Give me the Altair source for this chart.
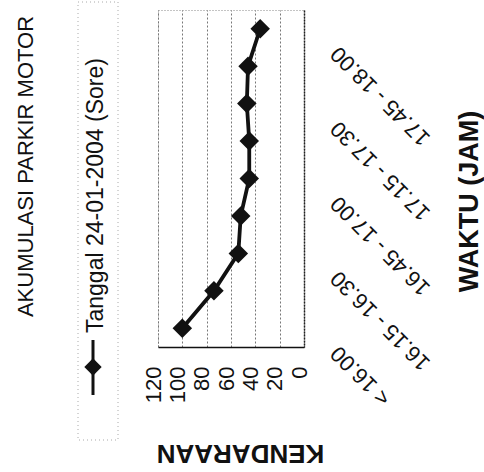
import altair as alt
import pandas as pd

# Time slots (15-minute intervals) and motorcycle accumulation counts
CATEGORIES = [
    "< 16.00", "16.00 - 16.15", "16.15 - 16.30", "16.30 - 16.45",
    "16.45 - 17.00", "17.00 - 17.15", "17.15 - 17.30", "17.30 - 17.45",
    "17.45 - 18.00",
]
VALUES = [100, 74, 54, 52, 45, 45, 47, 46, 36]
SHOWN_LABELS = ["< 16.00", "16.15 - 16.30", "16.45 - 17.00", "17.15 - 17.30", "17.45 - 18.00"]
VALUE_TICKS = [0, 20, 40, 60, 80, 100, 120]
SERIES = "Tanggal 24-01-2004 (Sore)"
TITLE = "AKUMULASI PARKIR MOTOR"

FONT = "Liberation Sans"

df = pd.DataFrame({"waktu": CATEGORIES, "kendaraan": VALUES, "seri": SERIES})
legend_df = pd.DataFrame({"seri": [SERIES]})

x_enc = alt.X(
    "kendaraan:Q",
    scale=alt.Scale(domain=[0, 120], reverse=True, nice=False, zero=True),
    axis=alt.Axis(
        values=VALUE_TICKS, labelAngle=270, labelAlign="right", labelBaseline="middle",
        labelFontSize=22, labelPadding=19, labelOffset=-5, labelColor="#111",
        ticks=False, domainColor="#111", domainWidth=1.5,
        grid=True, gridColor="#777", gridDash=[2, 2], gridWidth=1,
        title="KENDARAAN", titleAngle=180, titleFontSize=26, titleFontWeight="bold",
        titleAlign="center", titleBaseline="middle", titleX=82, titleY=105,
        titleColor="#111", labelOverlap=False,
    ),
)
y_enc = alt.Y(
    "waktu:N",
    sort=list(reversed(CATEGORIES)),
    scale=alt.Scale(type="point", padding=0.5),
    axis=alt.Axis(
        orient="right", values=SHOWN_LABELS, labelAngle=225, labelAlign="right",
        labelBaseline="middle", labelFontSize=22, labelPadding=30, labelOffset=21,
        labelColor="#111", labelOverlap=False, labelBound=False, labelLimit=300,
        ticks=False, domainColor="#222", domainDash=[2, 1], domainWidth=1.5,
        grid=False,
        title="WAKTU (JAM)", titleAngle=270, titleFontSize=27, titleFontWeight="bold",
        titleAlign="center", titleBaseline="middle", titleX=165, titleY=191,
        titleColor="#111", titleLimit=400,
    ),
)

line = alt.Chart(df).mark_line(color="#111", strokeWidth=3.8).encode(x=x_enc, y=y_enc)
points = alt.Chart(df).mark_point(
    shape="diamond", filled=True, color="#111", size=380, opacity=1
).encode(x=x_enc, y=y_enc)

# Legend, drawn beside the plot and turned like the rest of the chart
legend_box = alt.Chart(legend_df).mark_rect(
    fillOpacity=0, stroke="#aaa", strokeDash=[1, 3], strokeWidth=1
).encode(x=alt.value(-80), x2=alt.value(-40), y=alt.value(-8), y2=alt.value(430))
legend_rule = alt.Chart(legend_df).mark_rule(color="#111", strokeWidth=3).encode(
    x=alt.value(-65), y=alt.value(330), y2=alt.value(385)
)
legend_pt = alt.Chart(legend_df).mark_point(
    shape="diamond", filled=True, color="#111", size=300, opacity=1
).encode(x=alt.value(-65), y=alt.value(357))
legend_txt = alt.Chart(legend_df).mark_text(
    angle=270, align="left", baseline="middle", fontSize=23, font=FONT, color="#111"
).encode(x=alt.value(-62), y=alt.value(323), text="seri:N")

chart = (
    alt.layer(line, points, legend_box, legend_rule, legend_pt, legend_txt)
    .properties(
        width=146, height=337,
        padding={"left": 158, "top": 10, "right": 180, "bottom": 125},
        autosize=alt.AutoSizeParams(type="none"),
        title=alt.TitleParams(
            TITLE, orient="left", anchor="middle", frame="group", fontSize=22,
            fontWeight="normal", font=FONT, color="#111", offset=40, dx=12,
        ),
        background="white",
    )
    .configure_axis(labelFont=FONT, titleFont=FONT)
    .configure_view(stroke="#888", strokeDash=[1, 2], strokeWidth=1)
)

chart.save("out.html", embed_options={"renderer": "svg", "actions": False})
